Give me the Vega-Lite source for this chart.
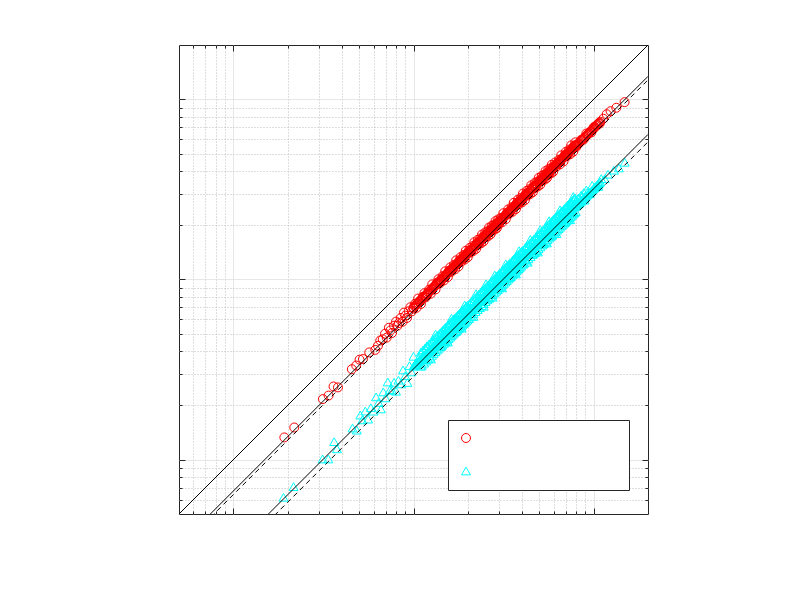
{
  "$schema": "https://vega.github.io/schema/vega-lite/v6.json",
  "width": 469,
  "height": 469,
  "autosize": {"type": "none"},
  "padding": {"left": 179, "top": 45, "right": 152, "bottom": 86},
  "background": "white",
  "config": {"view": {"stroke": "#262626", "strokeWidth": 1}},
  "datasets": {
    "lines": [
      {"k": "a", "x": 0.5, "y": 0.5}, {"k": "a", "x": 200, "y": 200},
      {"k": "b", "x": 0.5, "y": 0.335}, {"k": "b", "x": 200, "y": 134},
      {"k": "c", "x": 0.5, "y": 0.1595}, {"k": "c", "x": 200, "y": 63.8}
    ],
    "dashed": [
      {"k": "d", "x": 0.5, "y": 0.32}, {"k": "d", "x": 200, "y": 128},
      {"k": "e", "x": 0.5, "y": 0.145}, {"k": "e", "x": 200, "y": 58}
    ],
    "pts": [
      {"s":"A","x":1.92,"y":1.33},{"s":"A","x":2.18,"y":1.51},{"s":"A","x":3.14,"y":2.17},{"s":"A","x":3.38,"y":2.27},{"s":"A","x":3.6,"y":2.55},{"s":"A","x":3.81,"y":2.52},{"s":"A","x":4.55,"y":3.18},{"s":"A","x":4.81,"y":3.33},{"s":"A","x":5.02,"y":3.59},{"s":"A","x":5.24,"y":3.62},{"s":"A","x":5.68,"y":3.94},{"s":"A","x":6.14,"y":4.07},{"s":"A","x":6.35,"y":4.29},{"s":"A","x":6.54,"y":4.59},
      {"s":"A","x":6.75,"y":4.66},{"s":"A","x":6.95,"y":5.0},{"s":"A","x":7.1,"y":4.76},{"s":"A","x":7.3,"y":5.4},{"s":"A","x":7.45,"y":5.22},{"s":"A","x":7.6,"y":5.05},{"s":"A","x":7.8,"y":5.54},{"s":"A","x":8.0,"y":5.84},{"s":"A","x":8.15,"y":5.54},{"s":"A","x":8.3,"y":5.73},{"s":"A","x":8.5,"y":6.12},{"s":"A","x":8.7,"y":5.83},{"s":"A","x":8.85,"y":6.55},{"s":"A","x":9.0,"y":6.3},{"s":"A","x":9.2,"y":6.12},{"s":"A","x":9.4,"y":6.67},{"s":"A","x":9.6,"y":7.01},{"s":"A","x":9.8,"y":6.66},{"s":"A","x":10.0,"y":6.9},{"s":"A","x":10.2,"y":7.34},{"s":"A","x":10.4,"y":6.97},{"s":"A","x":10.6,"y":7.84},{"s":"A","x":10.8,"y":7.56},{"s":"A","x":11.0,"y":7.32},{"s":"A","x":11.25,"y":7.99},{"s":"A","x":11.5,"y":8.4},{"s":"A","x":11.7,"y":7.96},{"s":"A","x":11.95,"y":8.25},{"s":"A","x":12.2,"y":8.78},{"s":"A","x":12.45,"y":8.34},{"s":"A","x":12.7,"y":9.4},{"s":"A","x":13.0,"y":9.1},
      {"s":"A","x":13.25,"y":8.81},{"s":"A","x":13.5,"y":9.59},{"s":"A","x":13.75,"y":10.04},{"s":"A","x":14.0,"y":9.52},{"s":"A","x":14.25,"y":9.83},{"s":"A","x":14.5,"y":10.44},{"s":"A","x":14.75,"y":9.88},{"s":"A","x":15.0,"y":11.1},{"s":"A","x":15.25,"y":10.68},{"s":"A","x":15.5,"y":10.31},{"s":"A","x":15.75,"y":11.18},{"s":"A","x":16.0,"y":11.68},{"s":"A","x":16.25,"y":11.05},{"s":"A","x":16.5,"y":11.39},{"s":"A","x":16.75,"y":12.06},{"s":"A","x":17.0,"y":11.39},{"s":"A","x":17.25,"y":12.77},{"s":"A","x":17.5,"y":12.25},{"s":"A","x":17.75,"y":11.8},{"s":"A","x":18.0,"y":12.78},{"s":"A","x":18.25,"y":13.32},{"s":"A","x":18.5,"y":12.58},{"s":"A","x":18.75,"y":12.94},{"s":"A","x":19.0,"y":13.68},{"s":"A","x":19.25,"y":12.9},{"s":"A","x":19.5,"y":14.43},{"s":"A","x":19.75,"y":13.83},{"s":"A","x":20.0,"y":13.3},{"s":"A","x":20.25,"y":14.38},{"s":"A","x":20.5,"y":14.97},{"s":"A","x":20.75,"y":14.11},{"s":"A","x":21.0,"y":14.49},{"s":"A","x":21.25,"y":15.3},{"s":"A","x":21.5,"y":14.41},{"s":"A","x":21.75,"y":16.1},{"s":"A","x":22.0,"y":15.4},{"s":"A","x":22.25,"y":14.8},{"s":"A","x":22.5,"y":15.98},{"s":"A","x":22.75,"y":16.61},{"s":"A","x":23.0,"y":15.64},{"s":"A","x":23.25,"y":16.04},{"s":"A","x":23.5,"y":16.92},{"s":"A","x":23.75,"y":15.91},{"s":"A","x":24.0,"y":17.76},{"s":"A","x":24.25,"y":16.98},{"s":"A","x":24.5,"y":16.29},{"s":"A","x":24.75,"y":17.57},{"s":"A","x":25.0,"y":18.25},{"s":"A","x":25.25,"y":17.17},{"s":"A","x":25.5,"y":17.6},{"s":"A","x":25.75,"y":18.54},{"s":"A","x":26.0,"y":17.42},{"s":"A","x":26.25,"y":19.43},{"s":"A","x":26.5,"y":18.55},{"s":"A","x":26.75,"y":17.79},{"s":"A","x":27.0,"y":19.17},{"s":"A","x":27.25,"y":19.89},{"s":"A","x":27.5,"y":18.7},{"s":"A","x":27.75,"y":19.15},{"s":"A","x":28.0,"y":20.16},{"s":"A","x":28.25,"y":18.93},{"s":"A","x":28.5,"y":21.09},{"s":"A","x":28.75,"y":20.13},{"s":"A","x":29.0,"y":19.29},{"s":"A","x":29.25,"y":20.77},{"s":"A","x":29.5,"y":21.54},{"s":"A","x":29.75,"y":20.23},{"s":"A","x":30.0,"y":20.7},
      {"s":"A","x":30.5,"y":21.96},{"s":"A","x":31.0,"y":20.77},{"s":"A","x":31.5,"y":23.31},{"s":"A","x":32.0,"y":22.4},{"s":"A","x":32.5,"y":21.61},{"s":"A","x":33.0,"y":23.43},{"s":"A","x":33.5,"y":24.46},{"s":"A","x":34.0,"y":23.12},{"s":"A","x":34.5,"y":23.81},{"s":"A","x":35.0,"y":25.2},{"s":"A","x":35.5,"y":23.79},{"s":"A","x":36.0,"y":26.64},{"s":"A","x":36.5,"y":25.55},{"s":"A","x":37.0,"y":24.61},{"s":"A","x":37.5,"y":26.63},{"s":"A","x":38.0,"y":27.74},{"s":"A","x":38.5,"y":26.18},{"s":"A","x":39.0,"y":26.91},{"s":"A","x":39.5,"y":28.44},{"s":"A","x":40.0,"y":26.8},{"s":"A","x":40.5,"y":29.97},{"s":"A","x":41.0,"y":28.7},{"s":"A","x":41.5,"y":27.6},{"s":"A","x":42.0,"y":29.82},{"s":"A","x":42.5,"y":31.03},{"s":"A","x":43.0,"y":29.24},{"s":"A","x":43.5,"y":30.02},{"s":"A","x":44.0,"y":31.68},{"s":"A","x":44.5,"y":29.82},{"s":"A","x":45.0,"y":33.3},{"s":"A","x":45.5,"y":31.85},{"s":"A","x":46.0,"y":30.59},{"s":"A","x":46.5,"y":33.02},{"s":"A","x":47.0,"y":34.31},{"s":"A","x":47.5,"y":32.3},{"s":"A","x":48.0,"y":33.12},{"s":"A","x":48.5,"y":34.92},{"s":"A","x":49.0,"y":32.83},{"s":"A","x":49.5,"y":36.63},{"s":"A","x":50.0,"y":35.0},{"s":"A","x":50.5,"y":33.58},{"s":"A","x":51.0,"y":36.21},{"s":"A","x":51.5,"y":37.6},{"s":"A","x":52.0,"y":35.36},{"s":"A","x":52.5,"y":36.23},{"s":"A","x":53.0,"y":38.16},{"s":"A","x":53.5,"y":35.85},{"s":"A","x":54.0,"y":39.96},{"s":"A","x":54.5,"y":38.15},{"s":"A","x":55.0,"y":36.58},{"s":"A","x":55.5,"y":39.41},{"s":"A","x":56.0,"y":40.88},{"s":"A","x":56.5,"y":38.42},{"s":"A","x":57.0,"y":39.33},{"s":"A","x":57.5,"y":41.4},{"s":"A","x":58.0,"y":38.86},{"s":"A","x":58.5,"y":43.29},{"s":"A","x":59.0,"y":41.3},{"s":"A","x":59.5,"y":39.57},{"s":"A","x":60.0,"y":42.6},
      {"s":"A","x":61,"y":44.53},{"s":"A","x":62,"y":42.16},{"s":"A","x":63,"y":43.47},{"s":"A","x":64,"y":46.08},{"s":"A","x":65,"y":43.55},{"s":"A","x":66,"y":48.84},{"s":"A","x":67,"y":46.9},{"s":"A","x":68,"y":45.22},{"s":"A","x":69,"y":48.99},{"s":"A","x":70,"y":51.1},{"s":"A","x":71,"y":48.28},{"s":"A","x":72,"y":49.68},{"s":"A","x":73,"y":52.56},{"s":"A","x":74,"y":49.58},{"s":"A","x":75,"y":55.5},{"s":"A","x":76,"y":53.2},{"s":"A","x":77,"y":51.21},{"s":"A","x":78,"y":55.38},{"s":"A","x":79,"y":57.67},{"s":"A","x":80,"y":54.4},
      {"s":"A","x":82,"y":56.6},{"s":"A","x":85,"y":59.5},{"s":"A","x":88,"y":59.8},{"s":"A","x":91,"y":64.6},{"s":"A","x":94,"y":64.9},{"s":"A","x":97,"y":65.5},{"s":"A","x":100,"y":70.0},{"s":"A","x":104,"y":71.8},{"s":"A","x":108,"y":73.4},{"s":"A","x":113,"y":78.0},{"s":"A","x":118,"y":82.6},{"s":"A","x":124,"y":85.9},{"s":"A","x":133.4,"y":89.7},{"s":"A","x":148.3,"y":96.4},
      {"s":"A","x":10.0,"y":7.0},{"s":"A","x":10.15,"y":7.105},{"s":"A","x":10.3,"y":7.21},{"s":"A","x":10.45,"y":7.315},{"s":"A","x":10.6,"y":7.42},{"s":"A","x":10.75,"y":7.525},{"s":"A","x":10.9,"y":7.63},{"s":"A","x":11.05,"y":7.735},{"s":"A","x":11.2,"y":7.84},{"s":"A","x":11.35,"y":7.945},{"s":"A","x":11.5,"y":8.05},{"s":"A","x":11.65,"y":8.155},{"s":"A","x":11.8,"y":8.26},{"s":"A","x":11.95,"y":8.365},{"s":"A","x":12.1,"y":8.47},{"s":"A","x":12.25,"y":8.575},{"s":"A","x":12.4,"y":8.68},{"s":"A","x":12.55,"y":8.785},{"s":"A","x":12.7,"y":8.89},{"s":"A","x":12.85,"y":8.995},{"s":"A","x":13.0,"y":9.1},{"s":"A","x":13.15,"y":9.205},{"s":"A","x":13.3,"y":9.31},{"s":"A","x":13.45,"y":9.415},{"s":"A","x":13.6,"y":9.52},{"s":"A","x":13.75,"y":9.625},{"s":"A","x":13.9,"y":9.73},{"s":"A","x":14.05,"y":9.835},{"s":"A","x":14.2,"y":9.94},{"s":"A","x":14.35,"y":10.045},{"s":"A","x":14.5,"y":10.15},{"s":"A","x":14.65,"y":10.255},{"s":"A","x":14.8,"y":10.36},{"s":"A","x":14.95,"y":10.465},{"s":"A","x":15.1,"y":10.57},{"s":"A","x":15.25,"y":10.675},{"s":"A","x":15.4,"y":10.78},{"s":"A","x":15.55,"y":10.885},{"s":"A","x":15.7,"y":10.99},{"s":"A","x":15.85,"y":11.095},{"s":"A","x":16.0,"y":11.2},{"s":"A","x":16.15,"y":11.305},{"s":"A","x":16.3,"y":11.41},{"s":"A","x":16.45,"y":11.515},{"s":"A","x":16.6,"y":11.62},{"s":"A","x":16.75,"y":11.725},{"s":"A","x":16.9,"y":11.83},{"s":"A","x":17.05,"y":11.935},{"s":"A","x":17.2,"y":12.04},{"s":"A","x":17.35,"y":12.145},{"s":"A","x":17.5,"y":12.25},{"s":"A","x":17.65,"y":12.355},{"s":"A","x":17.8,"y":12.46},{"s":"A","x":17.95,"y":12.565},{"s":"A","x":18.1,"y":12.67},{"s":"A","x":18.25,"y":12.775},{"s":"A","x":18.4,"y":12.88},{"s":"A","x":18.55,"y":12.985},{"s":"A","x":18.7,"y":13.09},{"s":"A","x":18.85,"y":13.195},{"s":"A","x":19.0,"y":13.3},{"s":"A","x":19.15,"y":13.405},{"s":"A","x":19.3,"y":13.51},{"s":"A","x":19.45,"y":13.615},{"s":"A","x":19.6,"y":13.72},{"s":"A","x":19.75,"y":13.825},{"s":"A","x":19.9,"y":13.93},
      {"s":"A","x":20.0,"y":14.0},{"s":"A","x":20.3,"y":14.21},{"s":"A","x":20.6,"y":14.42},{"s":"A","x":20.9,"y":14.63},{"s":"A","x":21.2,"y":14.84},{"s":"A","x":21.5,"y":15.05},{"s":"A","x":21.8,"y":15.26},{"s":"A","x":22.1,"y":15.47},{"s":"A","x":22.4,"y":15.68},{"s":"A","x":22.7,"y":15.89},{"s":"A","x":23.0,"y":16.1},{"s":"A","x":23.3,"y":16.31},{"s":"A","x":23.6,"y":16.52},{"s":"A","x":23.9,"y":16.73},{"s":"A","x":24.2,"y":16.94},{"s":"A","x":24.5,"y":17.15},{"s":"A","x":24.8,"y":17.36},{"s":"A","x":25.1,"y":17.57},{"s":"A","x":25.4,"y":17.78},{"s":"A","x":25.7,"y":17.99},{"s":"A","x":26.0,"y":18.2},{"s":"A","x":26.3,"y":18.41},{"s":"A","x":26.6,"y":18.62},{"s":"A","x":26.9,"y":18.83},{"s":"A","x":27.2,"y":19.04},{"s":"A","x":27.5,"y":19.25},{"s":"A","x":27.8,"y":19.46},{"s":"A","x":28.1,"y":19.67},{"s":"A","x":28.4,"y":19.88},{"s":"A","x":28.7,"y":20.09},{"s":"A","x":29.0,"y":20.3},{"s":"A","x":29.3,"y":20.51},{"s":"A","x":29.6,"y":20.72},{"s":"A","x":29.9,"y":20.93},{"s":"A","x":30.2,"y":21.14},{"s":"A","x":30.5,"y":21.35},{"s":"A","x":30.8,"y":21.56},{"s":"A","x":31.1,"y":21.77},{"s":"A","x":31.4,"y":21.98},{"s":"A","x":31.7,"y":22.19},{"s":"A","x":32.0,"y":22.4},{"s":"A","x":32.3,"y":22.61},{"s":"A","x":32.6,"y":22.82},{"s":"A","x":32.9,"y":23.03},{"s":"A","x":33.2,"y":23.24},{"s":"A","x":33.5,"y":23.45},{"s":"A","x":33.8,"y":23.66},{"s":"A","x":34.1,"y":23.87},{"s":"A","x":34.4,"y":24.08},{"s":"A","x":34.7,"y":24.29},{"s":"A","x":35.0,"y":24.5},{"s":"A","x":35.3,"y":24.71},{"s":"A","x":35.6,"y":24.92},{"s":"A","x":35.9,"y":25.13},{"s":"A","x":36.2,"y":25.34},{"s":"A","x":36.5,"y":25.55},{"s":"A","x":36.8,"y":25.76},{"s":"A","x":37.1,"y":25.97},{"s":"A","x":37.4,"y":26.18},{"s":"A","x":37.7,"y":26.39},{"s":"A","x":38.0,"y":26.6},{"s":"A","x":38.3,"y":26.81},{"s":"A","x":38.6,"y":27.02},{"s":"A","x":38.9,"y":27.23},{"s":"A","x":39.2,"y":27.44},{"s":"A","x":39.5,"y":27.65},{"s":"A","x":39.8,"y":27.86},
      {"s":"A","x":40.0,"y":28.0},{"s":"A","x":40.6,"y":28.42},{"s":"A","x":41.2,"y":28.84},{"s":"A","x":41.8,"y":29.26},{"s":"A","x":42.4,"y":29.68},{"s":"A","x":43.0,"y":30.1},{"s":"A","x":43.6,"y":30.52},{"s":"A","x":44.2,"y":30.94},{"s":"A","x":44.8,"y":31.36},{"s":"A","x":45.4,"y":31.78},{"s":"A","x":46.0,"y":32.2},{"s":"A","x":46.6,"y":32.62},{"s":"A","x":47.2,"y":33.04},{"s":"A","x":47.8,"y":33.46},{"s":"A","x":48.4,"y":33.88},{"s":"A","x":49.0,"y":34.3},{"s":"A","x":49.6,"y":34.72},{"s":"A","x":50.2,"y":35.14},{"s":"A","x":50.8,"y":35.56},{"s":"A","x":51.4,"y":35.98},{"s":"A","x":52.0,"y":36.4},{"s":"A","x":52.6,"y":36.82},{"s":"A","x":53.2,"y":37.24},{"s":"A","x":53.8,"y":37.66},{"s":"A","x":54.4,"y":38.08},{"s":"A","x":55.0,"y":38.5},{"s":"A","x":55.6,"y":38.92},{"s":"A","x":56.2,"y":39.34},{"s":"A","x":56.8,"y":39.76},{"s":"A","x":57.4,"y":40.18},{"s":"A","x":58.0,"y":40.6},{"s":"A","x":58.6,"y":41.02},{"s":"A","x":59.2,"y":41.44},{"s":"A","x":59.8,"y":41.86},{"s":"A","x":60.4,"y":42.28},{"s":"A","x":61.0,"y":42.7},{"s":"A","x":61.6,"y":43.12},{"s":"A","x":62.2,"y":43.54},{"s":"A","x":62.8,"y":43.96},{"s":"A","x":63.4,"y":44.38},{"s":"A","x":64.0,"y":44.8},{"s":"A","x":64.6,"y":45.22},{"s":"A","x":65.2,"y":45.64},{"s":"A","x":65.8,"y":46.06},{"s":"A","x":66.4,"y":46.48},{"s":"A","x":67.0,"y":46.9},{"s":"A","x":67.6,"y":47.32},{"s":"A","x":68.2,"y":47.74},{"s":"A","x":68.8,"y":48.16},{"s":"A","x":69.4,"y":48.58},{"s":"A","x":70.0,"y":49.0},{"s":"A","x":70.6,"y":49.42},{"s":"A","x":71.2,"y":49.84},{"s":"A","x":71.8,"y":50.26},{"s":"A","x":72.4,"y":50.68},{"s":"A","x":73.0,"y":51.1},{"s":"A","x":73.6,"y":51.52},{"s":"A","x":74.2,"y":51.94},{"s":"A","x":74.8,"y":52.36},{"s":"A","x":75.4,"y":52.78},{"s":"A","x":76.0,"y":53.2},{"s":"A","x":76.6,"y":53.62},{"s":"A","x":77.2,"y":54.04},{"s":"A","x":77.8,"y":54.46},{"s":"A","x":78.4,"y":54.88},{"s":"A","x":79.0,"y":55.3},{"s":"A","x":79.6,"y":55.72},
      {"s":"A","x":80.0,"y":55.2},{"s":"A","x":81.2,"y":56.03},{"s":"A","x":82.4,"y":56.86},{"s":"A","x":83.6,"y":57.68},{"s":"A","x":84.8,"y":58.51},{"s":"A","x":86.0,"y":59.34},{"s":"A","x":87.2,"y":60.17},{"s":"A","x":88.4,"y":61.0},{"s":"A","x":89.6,"y":61.82},{"s":"A","x":90.8,"y":62.65},{"s":"A","x":92.0,"y":63.48},{"s":"A","x":93.2,"y":64.31},{"s":"A","x":94.4,"y":65.14},{"s":"A","x":95.6,"y":65.96},{"s":"A","x":96.8,"y":66.79},{"s":"A","x":98.0,"y":67.62},{"s":"A","x":99.2,"y":68.45},{"s":"A","x":100.4,"y":69.28},{"s":"A","x":101.6,"y":70.1},{"s":"A","x":102.8,"y":70.93},{"s":"A","x":104.0,"y":71.76},{"s":"A","x":105.2,"y":72.59},{"s":"A","x":106.4,"y":73.42},{"s":"A","x":107.6,"y":74.24},{"s":"A","x":108.8,"y":75.07},
      {"s":"B","x":1.9,"y":0.619},{"s":"B","x":2.16,"y":0.709},{"s":"B","x":3.13,"y":1.01},{"s":"B","x":3.37,"y":1.01},{"s":"B","x":3.63,"y":1.26},{"s":"B","x":3.76,"y":1.15},{"s":"B","x":4.59,"y":1.5},{"s":"B","x":4.85,"y":1.46},{"s":"B","x":5.07,"y":1.77},
      {"s":"B","x":5.2,"y":1.664},{"s":"B","x":5.4,"y":1.863},{"s":"B","x":5.6,"y":1.68},{"s":"B","x":5.8,"y":1.943},{"s":"B","x":6.0,"y":1.86},{"s":"B","x":6.2,"y":2.232},{"s":"B","x":6.4,"y":2.08},{"s":"B","x":6.6,"y":1.914},{"s":"B","x":6.8,"y":2.38},{"s":"B","x":7.0,"y":2.205},{"s":"B","x":7.2,"y":2.7},{"s":"B","x":7.4,"y":2.442},{"s":"B","x":7.6,"y":2.432},{"s":"B","x":7.8,"y":2.691},{"s":"B","x":8.0,"y":2.4},{"s":"B","x":8.25,"y":2.764},{"s":"B","x":8.5,"y":2.635},{"s":"B","x":8.75,"y":3.15},{"s":"B","x":9.0,"y":2.925},{"s":"B","x":9.25,"y":2.683},{"s":"B","x":9.5,"y":3.325},{"s":"B","x":9.75,"y":3.071},{"s":"B","x":10.0,"y":3.75},{"s":"B","x":10.25,"y":3.383},{"s":"B","x":10.5,"y":3.36},{"s":"B","x":10.75,"y":3.709},{"s":"B","x":11.0,"y":3.3},{"s":"B","x":11.3,"y":3.786},{"s":"B","x":11.6,"y":3.596},{"s":"B","x":11.9,"y":4.284},{"s":"B","x":12.2,"y":3.965},{"s":"B","x":12.5,"y":3.625},{"s":"B","x":12.8,"y":4.48},
      {"s":"B","x":13.0,"y":4.095},{"s":"B","x":13.25,"y":4.969},{"s":"B","x":13.5,"y":4.455},{"s":"B","x":13.75,"y":4.4},{"s":"B","x":14.0,"y":4.83},{"s":"B","x":14.25,"y":4.275},{"s":"B","x":14.5,"y":4.858},{"s":"B","x":14.75,"y":4.573},{"s":"B","x":15.0,"y":5.4},{"s":"B","x":15.25,"y":4.956},{"s":"B","x":15.5,"y":4.495},{"s":"B","x":15.75,"y":5.513},{"s":"B","x":16.0,"y":5.04},{"s":"B","x":16.25,"y":6.094},{"s":"B","x":16.5,"y":5.445},{"s":"B","x":16.75,"y":5.36},{"s":"B","x":17.0,"y":5.865},{"s":"B","x":17.25,"y":5.175},{"s":"B","x":17.5,"y":5.863},{"s":"B","x":17.75,"y":5.503},{"s":"B","x":18.0,"y":6.48},{"s":"B","x":18.25,"y":5.931},{"s":"B","x":18.5,"y":5.365},{"s":"B","x":18.75,"y":6.563},{"s":"B","x":19.0,"y":5.985},{"s":"B","x":19.25,"y":7.219},{"s":"B","x":19.5,"y":6.435},{"s":"B","x":19.75,"y":6.32},{"s":"B","x":20.0,"y":6.9},{"s":"B","x":20.25,"y":6.075},{"s":"B","x":20.5,"y":6.868},{"s":"B","x":20.75,"y":6.433},{"s":"B","x":21.0,"y":7.56},{"s":"B","x":21.25,"y":6.906},{"s":"B","x":21.5,"y":6.235},{"s":"B","x":21.75,"y":7.613},{"s":"B","x":22.0,"y":6.93},{"s":"B","x":22.25,"y":8.344},{"s":"B","x":22.5,"y":7.425},{"s":"B","x":22.75,"y":7.28},{"s":"B","x":23.0,"y":7.935},{"s":"B","x":23.25,"y":6.975},{"s":"B","x":23.5,"y":7.873},{"s":"B","x":23.75,"y":7.363},{"s":"B","x":24.0,"y":8.64},{"s":"B","x":24.25,"y":7.881},{"s":"B","x":24.5,"y":7.105},{"s":"B","x":24.75,"y":8.663},{"s":"B","x":25.0,"y":7.875},{"s":"B","x":25.25,"y":9.469},{"s":"B","x":25.5,"y":8.415},{"s":"B","x":25.75,"y":8.24},{"s":"B","x":26.0,"y":8.97},{"s":"B","x":26.25,"y":7.875},{"s":"B","x":26.5,"y":8.878},{"s":"B","x":26.75,"y":8.293},{"s":"B","x":27.0,"y":9.72},{"s":"B","x":27.25,"y":8.856},{"s":"B","x":27.5,"y":7.975},{"s":"B","x":27.75,"y":9.713},{"s":"B","x":28.0,"y":8.82},{"s":"B","x":28.25,"y":10.59},{"s":"B","x":28.5,"y":9.405},{"s":"B","x":28.75,"y":9.2},{"s":"B","x":29.0,"y":10.01},{"s":"B","x":29.25,"y":8.775},{"s":"B","x":29.5,"y":9.883},{"s":"B","x":29.75,"y":9.223},{"s":"B","x":30.0,"y":10.8},
      {"s":"B","x":30.5,"y":9.913},{"s":"B","x":31.0,"y":8.99},{"s":"B","x":31.5,"y":11.03},{"s":"B","x":32.0,"y":10.08},{"s":"B","x":32.5,"y":12.19},{"s":"B","x":33.0,"y":10.89},{"s":"B","x":33.5,"y":10.72},{"s":"B","x":34.0,"y":11.73},{"s":"B","x":34.5,"y":10.35},{"s":"B","x":35.0,"y":11.73},{"s":"B","x":35.5,"y":11.01},{"s":"B","x":36.0,"y":12.96},{"s":"B","x":36.5,"y":11.86},{"s":"B","x":37.0,"y":10.73},{"s":"B","x":37.5,"y":13.13},{"s":"B","x":38.0,"y":11.97},{"s":"B","x":38.5,"y":14.44},{"s":"B","x":39.0,"y":12.87},{"s":"B","x":39.5,"y":12.64},{"s":"B","x":40.0,"y":13.8},{"s":"B","x":40.5,"y":12.15},{"s":"B","x":41.0,"y":13.74},{"s":"B","x":41.5,"y":12.87},{"s":"B","x":42.0,"y":15.12},{"s":"B","x":42.5,"y":13.81},{"s":"B","x":43.0,"y":12.47},{"s":"B","x":43.5,"y":15.23},{"s":"B","x":44.0,"y":13.86},{"s":"B","x":44.5,"y":16.69},{"s":"B","x":45.0,"y":14.85},{"s":"B","x":45.5,"y":14.56},{"s":"B","x":46.0,"y":15.87},{"s":"B","x":46.5,"y":13.95},{"s":"B","x":47.0,"y":15.75},{"s":"B","x":47.5,"y":14.73},{"s":"B","x":48.0,"y":17.28},{"s":"B","x":48.5,"y":15.76},{"s":"B","x":49.0,"y":14.21},{"s":"B","x":49.5,"y":17.33},{"s":"B","x":50.0,"y":15.75},{"s":"B","x":50.5,"y":18.94},{"s":"B","x":51.0,"y":16.83},{"s":"B","x":51.5,"y":16.48},{"s":"B","x":52.0,"y":17.94},{"s":"B","x":52.5,"y":15.75},{"s":"B","x":53.0,"y":17.76},{"s":"B","x":53.5,"y":16.59},{"s":"B","x":54.0,"y":19.44},{"s":"B","x":54.5,"y":17.71},{"s":"B","x":55.0,"y":15.95},{"s":"B","x":55.5,"y":19.43},{"s":"B","x":56.0,"y":17.64},{"s":"B","x":56.5,"y":21.19},{"s":"B","x":57.0,"y":18.81},{"s":"B","x":57.5,"y":18.4},{"s":"B","x":58.0,"y":20.01},{"s":"B","x":58.5,"y":17.55},{"s":"B","x":59.0,"y":19.77},{"s":"B","x":59.5,"y":18.45},{"s":"B","x":60.0,"y":21.6},
      {"s":"B","x":61,"y":19.83},{"s":"B","x":62,"y":17.98},{"s":"B","x":63,"y":22.05},{"s":"B","x":64,"y":20.16},{"s":"B","x":65,"y":24.38},{"s":"B","x":66,"y":21.78},{"s":"B","x":67,"y":21.44},{"s":"B","x":68,"y":23.46},{"s":"B","x":69,"y":20.7},{"s":"B","x":70,"y":23.45},{"s":"B","x":71,"y":22.01},{"s":"B","x":72,"y":25.92},{"s":"B","x":73,"y":23.73},{"s":"B","x":74,"y":21.46},{"s":"B","x":75,"y":26.25},{"s":"B","x":76,"y":23.94},{"s":"B","x":77,"y":28.88},{"s":"B","x":78,"y":25.74},{"s":"B","x":79,"y":25.28},{"s":"B","x":80,"y":27.6},
      {"s":"B","x":83,"y":26.56},{"s":"B","x":86,"y":28.81},{"s":"B","x":89,"y":27.59},{"s":"B","x":92,"y":30.36},{"s":"B","x":95,"y":29.93},{"s":"B","x":98,"y":33.32},{"s":"B","x":102,"y":32.64},{"s":"B","x":106,"y":32.86},{"s":"B","x":110,"y":36.3},{"s":"B","x":115,"y":36.23},{"s":"B","x":120,"y":38.4},{"s":"B","x":129.4,"y":40.4},{"s":"B","x":137.9,"y":41.6},{"s":"B","x":148.5,"y":44.7},
      {"s":"B","x":10.0,"y":3.3},{"s":"B","x":10.15,"y":3.35},{"s":"B","x":10.3,"y":3.399},{"s":"B","x":10.45,"y":3.449},{"s":"B","x":10.6,"y":3.498},{"s":"B","x":10.75,"y":3.548},{"s":"B","x":10.9,"y":3.597},{"s":"B","x":11.05,"y":3.647},{"s":"B","x":11.2,"y":3.696},{"s":"B","x":11.35,"y":3.746},{"s":"B","x":11.5,"y":3.795},{"s":"B","x":11.65,"y":3.845},{"s":"B","x":11.8,"y":3.894},{"s":"B","x":11.95,"y":3.944},{"s":"B","x":12.1,"y":3.993},{"s":"B","x":12.25,"y":4.043},{"s":"B","x":12.4,"y":4.092},{"s":"B","x":12.55,"y":4.142},{"s":"B","x":12.7,"y":4.191},{"s":"B","x":12.85,"y":4.241},{"s":"B","x":13.0,"y":4.29},{"s":"B","x":13.15,"y":4.34},{"s":"B","x":13.3,"y":4.389},{"s":"B","x":13.45,"y":4.439},{"s":"B","x":13.6,"y":4.488},{"s":"B","x":13.75,"y":4.538},{"s":"B","x":13.9,"y":4.587},{"s":"B","x":14.05,"y":4.637},{"s":"B","x":14.2,"y":4.686},{"s":"B","x":14.35,"y":4.736},{"s":"B","x":14.5,"y":4.785},{"s":"B","x":14.65,"y":4.835},{"s":"B","x":14.8,"y":4.884},{"s":"B","x":14.95,"y":4.934},{"s":"B","x":15.1,"y":4.983},{"s":"B","x":15.25,"y":5.033},{"s":"B","x":15.4,"y":5.082},{"s":"B","x":15.55,"y":5.132},{"s":"B","x":15.7,"y":5.181},{"s":"B","x":15.85,"y":5.231},{"s":"B","x":16.0,"y":5.28},{"s":"B","x":16.15,"y":5.33},{"s":"B","x":16.3,"y":5.379},{"s":"B","x":16.45,"y":5.429},{"s":"B","x":16.6,"y":5.478},{"s":"B","x":16.75,"y":5.528},{"s":"B","x":16.9,"y":5.577},{"s":"B","x":17.05,"y":5.627},{"s":"B","x":17.2,"y":5.676},{"s":"B","x":17.35,"y":5.726},{"s":"B","x":17.5,"y":5.775},{"s":"B","x":17.65,"y":5.825},{"s":"B","x":17.8,"y":5.874},{"s":"B","x":17.95,"y":5.924},{"s":"B","x":18.1,"y":5.973},{"s":"B","x":18.25,"y":6.023},{"s":"B","x":18.4,"y":6.072},{"s":"B","x":18.55,"y":6.122},{"s":"B","x":18.7,"y":6.171},{"s":"B","x":18.85,"y":6.221},{"s":"B","x":19.0,"y":6.27},{"s":"B","x":19.15,"y":6.32},{"s":"B","x":19.3,"y":6.369},{"s":"B","x":19.45,"y":6.419},{"s":"B","x":19.6,"y":6.468},{"s":"B","x":19.75,"y":6.518},{"s":"B","x":19.9,"y":6.567},
      {"s":"B","x":20.0,"y":6.6},{"s":"B","x":20.3,"y":6.699},{"s":"B","x":20.6,"y":6.798},{"s":"B","x":20.9,"y":6.897},{"s":"B","x":21.2,"y":6.996},{"s":"B","x":21.5,"y":7.095},{"s":"B","x":21.8,"y":7.194},{"s":"B","x":22.1,"y":7.293},{"s":"B","x":22.4,"y":7.392},{"s":"B","x":22.7,"y":7.491},{"s":"B","x":23.0,"y":7.59},{"s":"B","x":23.3,"y":7.689},{"s":"B","x":23.6,"y":7.788},{"s":"B","x":23.9,"y":7.887},{"s":"B","x":24.2,"y":7.986},{"s":"B","x":24.5,"y":8.085},{"s":"B","x":24.8,"y":8.184},{"s":"B","x":25.1,"y":8.283},{"s":"B","x":25.4,"y":8.382},{"s":"B","x":25.7,"y":8.481},{"s":"B","x":26.0,"y":8.58},{"s":"B","x":26.3,"y":8.679},{"s":"B","x":26.6,"y":8.778},{"s":"B","x":26.9,"y":8.877},{"s":"B","x":27.2,"y":8.976},{"s":"B","x":27.5,"y":9.075},{"s":"B","x":27.8,"y":9.174},{"s":"B","x":28.1,"y":9.273},{"s":"B","x":28.4,"y":9.372},{"s":"B","x":28.7,"y":9.471},{"s":"B","x":29.0,"y":9.57},{"s":"B","x":29.3,"y":9.669},{"s":"B","x":29.6,"y":9.768},{"s":"B","x":29.9,"y":9.867},{"s":"B","x":30.2,"y":9.966},{"s":"B","x":30.5,"y":10.065},{"s":"B","x":30.8,"y":10.164},{"s":"B","x":31.1,"y":10.263},{"s":"B","x":31.4,"y":10.362},{"s":"B","x":31.7,"y":10.461},{"s":"B","x":32.0,"y":10.56},{"s":"B","x":32.3,"y":10.659},{"s":"B","x":32.6,"y":10.758},{"s":"B","x":32.9,"y":10.857},{"s":"B","x":33.2,"y":10.956},{"s":"B","x":33.5,"y":11.055},{"s":"B","x":33.8,"y":11.154},{"s":"B","x":34.1,"y":11.253},{"s":"B","x":34.4,"y":11.352},{"s":"B","x":34.7,"y":11.451},{"s":"B","x":35.0,"y":11.55},{"s":"B","x":35.3,"y":11.649},{"s":"B","x":35.6,"y":11.748},{"s":"B","x":35.9,"y":11.847},{"s":"B","x":36.2,"y":11.946},{"s":"B","x":36.5,"y":12.045},{"s":"B","x":36.8,"y":12.144},{"s":"B","x":37.1,"y":12.243},{"s":"B","x":37.4,"y":12.342},{"s":"B","x":37.7,"y":12.441},{"s":"B","x":38.0,"y":12.54},{"s":"B","x":38.3,"y":12.639},{"s":"B","x":38.6,"y":12.738},{"s":"B","x":38.9,"y":12.837},{"s":"B","x":39.2,"y":12.936},{"s":"B","x":39.5,"y":13.035},{"s":"B","x":39.8,"y":13.134},
      {"s":"B","x":40.0,"y":13.2},{"s":"B","x":40.6,"y":13.398},{"s":"B","x":41.2,"y":13.596},{"s":"B","x":41.8,"y":13.794},{"s":"B","x":42.4,"y":13.992},{"s":"B","x":43.0,"y":14.19},{"s":"B","x":43.6,"y":14.388},{"s":"B","x":44.2,"y":14.586},{"s":"B","x":44.8,"y":14.784},{"s":"B","x":45.4,"y":14.982},{"s":"B","x":46.0,"y":15.18},{"s":"B","x":46.6,"y":15.378},{"s":"B","x":47.2,"y":15.576},{"s":"B","x":47.8,"y":15.774},{"s":"B","x":48.4,"y":15.972},{"s":"B","x":49.0,"y":16.17},{"s":"B","x":49.6,"y":16.368},{"s":"B","x":50.2,"y":16.566},{"s":"B","x":50.8,"y":16.764},{"s":"B","x":51.4,"y":16.962},{"s":"B","x":52.0,"y":17.16},{"s":"B","x":52.6,"y":17.358},{"s":"B","x":53.2,"y":17.556},{"s":"B","x":53.8,"y":17.754},{"s":"B","x":54.4,"y":17.952},{"s":"B","x":55.0,"y":18.15},{"s":"B","x":55.6,"y":18.348},{"s":"B","x":56.2,"y":18.546},{"s":"B","x":56.8,"y":18.744},{"s":"B","x":57.4,"y":18.942},{"s":"B","x":58.0,"y":19.14},{"s":"B","x":58.6,"y":19.338},{"s":"B","x":59.2,"y":19.536},{"s":"B","x":59.8,"y":19.734},{"s":"B","x":60.4,"y":19.932},{"s":"B","x":61.0,"y":20.13},{"s":"B","x":61.6,"y":20.328},{"s":"B","x":62.2,"y":20.526},{"s":"B","x":62.8,"y":20.724},{"s":"B","x":63.4,"y":20.922},{"s":"B","x":64.0,"y":21.12},{"s":"B","x":64.6,"y":21.318},{"s":"B","x":65.2,"y":21.516},{"s":"B","x":65.8,"y":21.714},{"s":"B","x":66.4,"y":21.912},{"s":"B","x":67.0,"y":22.11},{"s":"B","x":67.6,"y":22.308},{"s":"B","x":68.2,"y":22.506},{"s":"B","x":68.8,"y":22.704},{"s":"B","x":69.4,"y":22.902},{"s":"B","x":70.0,"y":23.1},{"s":"B","x":70.6,"y":23.298},{"s":"B","x":71.2,"y":23.496},{"s":"B","x":71.8,"y":23.694},{"s":"B","x":72.4,"y":23.892},{"s":"B","x":73.0,"y":24.09},{"s":"B","x":73.6,"y":24.288},{"s":"B","x":74.2,"y":24.486},{"s":"B","x":74.8,"y":24.684},{"s":"B","x":75.4,"y":24.882},{"s":"B","x":76.0,"y":25.08},{"s":"B","x":76.6,"y":25.278},{"s":"B","x":77.2,"y":25.476},{"s":"B","x":77.8,"y":25.674},{"s":"B","x":78.4,"y":25.872},{"s":"B","x":79.0,"y":26.07},{"s":"B","x":79.6,"y":26.268},
      {"s":"B","x":80.0,"y":25.6},{"s":"B","x":81.2,"y":25.984},{"s":"B","x":82.4,"y":26.368},{"s":"B","x":83.6,"y":26.752},{"s":"B","x":84.8,"y":27.136},{"s":"B","x":86.0,"y":27.52},{"s":"B","x":87.2,"y":27.904},{"s":"B","x":88.4,"y":28.288},{"s":"B","x":89.6,"y":28.672},{"s":"B","x":90.8,"y":29.056},{"s":"B","x":92.0,"y":29.44},{"s":"B","x":93.2,"y":29.824},{"s":"B","x":94.4,"y":30.208},{"s":"B","x":95.6,"y":30.592},{"s":"B","x":96.8,"y":30.976},{"s":"B","x":98.0,"y":31.36},{"s":"B","x":99.2,"y":31.744},{"s":"B","x":100.4,"y":32.128},{"s":"B","x":101.6,"y":32.512},{"s":"B","x":102.8,"y":32.896},{"s":"B","x":104.0,"y":33.28},{"s":"B","x":105.2,"y":33.664},{"s":"B","x":106.4,"y":34.048},{"s":"B","x":107.6,"y":34.432},{"s":"B","x":108.8,"y":34.816},
      {"s":"B","x":11.0,"y":3.96},{"s":"B","x":11.3,"y":4.068},{"s":"B","x":11.6,"y":4.176},{"s":"B","x":11.9,"y":4.284},{"s":"B","x":12.2,"y":4.392},{"s":"B","x":12.5,"y":4.5},{"s":"B","x":12.8,"y":4.608},{"s":"B","x":13.1,"y":4.716},{"s":"B","x":13.4,"y":4.824},{"s":"B","x":13.7,"y":4.932},{"s":"B","x":14.0,"y":5.04},{"s":"B","x":14.3,"y":5.148},{"s":"B","x":14.6,"y":5.256},{"s":"B","x":14.9,"y":5.364},{"s":"B","x":15.2,"y":5.472},{"s":"B","x":15.5,"y":5.58},{"s":"B","x":15.8,"y":5.688},{"s":"B","x":16.1,"y":5.796},{"s":"B","x":16.4,"y":5.904},{"s":"B","x":16.7,"y":6.012},{"s":"B","x":17.0,"y":6.12},{"s":"B","x":17.3,"y":6.228},{"s":"B","x":17.6,"y":6.336},{"s":"B","x":17.9,"y":6.444},{"s":"B","x":18.2,"y":6.552},{"s":"B","x":18.5,"y":6.66},{"s":"B","x":18.8,"y":6.768},{"s":"B","x":19.1,"y":6.876},{"s":"B","x":19.4,"y":6.984},{"s":"B","x":19.7,"y":7.092},
      {"s":"B","x":20.0,"y":7.2},{"s":"B","x":20.6,"y":7.416},{"s":"B","x":21.2,"y":7.632},{"s":"B","x":21.8,"y":7.848},{"s":"B","x":22.4,"y":8.064},{"s":"B","x":23.0,"y":8.28},{"s":"B","x":23.6,"y":8.496},{"s":"B","x":24.2,"y":8.712},{"s":"B","x":24.8,"y":8.928},{"s":"B","x":25.4,"y":9.144},{"s":"B","x":26.0,"y":9.36},{"s":"B","x":26.6,"y":9.576},{"s":"B","x":27.2,"y":9.792},{"s":"B","x":27.8,"y":10.008},{"s":"B","x":28.4,"y":10.224},{"s":"B","x":29.0,"y":10.44},{"s":"B","x":29.6,"y":10.656},{"s":"B","x":30.2,"y":10.872},{"s":"B","x":30.8,"y":11.088},{"s":"B","x":31.4,"y":11.304},{"s":"B","x":32.0,"y":11.52},{"s":"B","x":32.6,"y":11.736},{"s":"B","x":33.2,"y":11.952},{"s":"B","x":33.8,"y":12.168},{"s":"B","x":34.4,"y":12.384},{"s":"B","x":35.0,"y":12.6},{"s":"B","x":35.6,"y":12.816},{"s":"B","x":36.2,"y":13.032},{"s":"B","x":36.8,"y":13.248},{"s":"B","x":37.4,"y":13.464},{"s":"B","x":38.0,"y":13.68},{"s":"B","x":38.6,"y":13.896},{"s":"B","x":39.2,"y":14.112},{"s":"B","x":39.8,"y":14.328},
      {"s":"B","x":40.4,"y":14.544},{"s":"B","x":41.6,"y":14.976},{"s":"B","x":42.8,"y":15.408},{"s":"B","x":44.0,"y":15.84},{"s":"B","x":45.2,"y":16.272},{"s":"B","x":46.4,"y":16.704},{"s":"B","x":47.6,"y":17.136},{"s":"B","x":48.8,"y":17.568},{"s":"B","x":50.0,"y":18.0},{"s":"B","x":51.2,"y":18.432},{"s":"B","x":52.4,"y":18.864},{"s":"B","x":53.6,"y":19.296},{"s":"B","x":54.8,"y":19.728},{"s":"B","x":56.0,"y":20.16},{"s":"B","x":57.2,"y":20.592},{"s":"B","x":58.4,"y":21.024},{"s":"B","x":59.6,"y":21.456},{"s":"B","x":60.8,"y":21.888},{"s":"B","x":62.0,"y":22.32},{"s":"B","x":63.2,"y":22.752},{"s":"B","x":64.4,"y":23.184},{"s":"B","x":65.6,"y":23.616},{"s":"B","x":66.8,"y":24.048},{"s":"B","x":68.0,"y":24.48},{"s":"B","x":69.2,"y":24.912},{"s":"B","x":70.4,"y":25.344},{"s":"B","x":71.6,"y":25.776},{"s":"B","x":72.8,"y":26.208},{"s":"B","x":74.0,"y":26.64},{"s":"B","x":75.2,"y":27.072},{"s":"B","x":76.4,"y":27.504},{"s":"B","x":77.6,"y":27.936},{"s":"B","x":78.8,"y":28.368},{"s":"B","x":82,"y":28.29},{"s":"B","x":85,"y":29.33},{"s":"B","x":88,"y":30.36},{"s":"B","x":91,"y":31.4},
      {"s":"B","x":11.15,"y":3.345},{"s":"B","x":11.45,"y":3.435},{"s":"B","x":11.75,"y":3.525},{"s":"B","x":12.05,"y":3.615},{"s":"B","x":12.35,"y":3.705},{"s":"B","x":12.65,"y":3.795},{"s":"B","x":12.95,"y":3.885},{"s":"B","x":13.25,"y":3.975},{"s":"B","x":13.55,"y":4.065},{"s":"B","x":13.85,"y":4.155},{"s":"B","x":14.15,"y":4.245},{"s":"B","x":14.45,"y":4.335},{"s":"B","x":14.75,"y":4.425},{"s":"B","x":15.05,"y":4.515},{"s":"B","x":15.35,"y":4.605},{"s":"B","x":15.65,"y":4.695},{"s":"B","x":15.95,"y":4.785},{"s":"B","x":16.25,"y":4.875},{"s":"B","x":16.55,"y":4.965},{"s":"B","x":16.85,"y":5.055},{"s":"B","x":17.15,"y":5.145},{"s":"B","x":17.45,"y":5.235},{"s":"B","x":17.75,"y":5.325},{"s":"B","x":18.05,"y":5.415},{"s":"B","x":18.35,"y":5.505},{"s":"B","x":18.65,"y":5.595},{"s":"B","x":18.95,"y":5.685},{"s":"B","x":19.25,"y":5.775},{"s":"B","x":19.55,"y":5.865},{"s":"B","x":19.85,"y":5.955},
      {"s":"B","x":20.3,"y":6.09},{"s":"B","x":20.9,"y":6.27},{"s":"B","x":21.5,"y":6.45},{"s":"B","x":22.1,"y":6.63},{"s":"B","x":22.7,"y":6.81},{"s":"B","x":23.3,"y":6.99},{"s":"B","x":23.9,"y":7.17},{"s":"B","x":24.5,"y":7.35},{"s":"B","x":25.1,"y":7.53},{"s":"B","x":25.7,"y":7.71},{"s":"B","x":26.3,"y":7.89},{"s":"B","x":26.9,"y":8.07},{"s":"B","x":27.5,"y":8.25},{"s":"B","x":28.1,"y":8.43},{"s":"B","x":28.7,"y":8.61},{"s":"B","x":29.3,"y":8.79},{"s":"B","x":29.9,"y":8.97},{"s":"B","x":30.5,"y":9.15},{"s":"B","x":31.1,"y":9.33},{"s":"B","x":31.7,"y":9.51},{"s":"B","x":32.3,"y":9.69},{"s":"B","x":32.9,"y":9.87},{"s":"B","x":33.5,"y":10.05},{"s":"B","x":34.1,"y":10.23},{"s":"B","x":34.7,"y":10.41},{"s":"B","x":35.3,"y":10.59},{"s":"B","x":35.9,"y":10.77},{"s":"B","x":36.5,"y":10.95},{"s":"B","x":37.1,"y":11.13},{"s":"B","x":37.7,"y":11.31},{"s":"B","x":38.3,"y":11.49},{"s":"B","x":38.9,"y":11.67},{"s":"B","x":39.5,"y":11.85},
      {"s":"B","x":41.0,"y":12.3},{"s":"B","x":42.2,"y":12.66},{"s":"B","x":43.4,"y":13.02},{"s":"B","x":44.6,"y":13.38},{"s":"B","x":45.8,"y":13.74},{"s":"B","x":47.0,"y":14.1},{"s":"B","x":48.2,"y":14.46},{"s":"B","x":49.4,"y":14.82},{"s":"B","x":50.6,"y":15.18},{"s":"B","x":51.8,"y":15.54},{"s":"B","x":53.0,"y":15.9},{"s":"B","x":54.2,"y":16.26},{"s":"B","x":55.4,"y":16.62},{"s":"B","x":56.6,"y":16.98},{"s":"B","x":57.8,"y":17.34},{"s":"B","x":59.0,"y":17.7},{"s":"B","x":60.2,"y":18.06},{"s":"B","x":61.4,"y":18.42},{"s":"B","x":62.6,"y":18.78},{"s":"B","x":63.8,"y":19.14},{"s":"B","x":65.0,"y":19.5},{"s":"B","x":66.2,"y":19.86},{"s":"B","x":67.4,"y":20.22},{"s":"B","x":68.6,"y":20.58},{"s":"B","x":69.8,"y":20.94},{"s":"B","x":71.0,"y":21.3},{"s":"B","x":72.2,"y":21.66},{"s":"B","x":73.4,"y":22.02},{"s":"B","x":74.6,"y":22.38},{"s":"B","x":75.8,"y":22.74},{"s":"B","x":77.0,"y":23.1},{"s":"B","x":78.2,"y":23.46},{"s":"B","x":79.4,"y":23.82}
    ]
  },
  "layer": [
    {
      "data": {"name": "pts"},
      "mark": {"type": "point", "filled": false, "size": 80, "strokeWidth": 1, "clip": true, "opacity": 1},
      "encoding": {
        "x": {
          "field": "x", "type": "quantitative",
          "scale": {"type": "log", "domain": [0.5, 200], "nice": false},
          "axis": {
            "orient": "bottom",
            "values": [0.6, 0.7, 0.8, 0.9, 1, 2, 3, 4, 5, 6, 7, 8, 9, 10, 20, 30, 40, 50, 60, 70, 80, 90, 100],
            "labels": false, "title": null, "domain": false, "grid": true, "gridWidth": 1,
            "gridColor": {"condition": {"test": "datum.value==1||datum.value==10||datum.value==100", "value": "#dedede"}, "value": "#bdbdbd"},
            "gridDash": {"condition": {"test": "datum.value==1||datum.value==10||datum.value==100", "value": [1, 0]}, "value": [1, 2]},
            "tickColor": "#262626", "tickWidth": 1,
            "tickSize": {"condition": {"test": "datum.value==1||datum.value==10||datum.value==100", "value": -6}, "value": -3}
          }
        },
        "y": {
          "field": "y", "type": "quantitative",
          "scale": {"type": "log", "domain": [0.5, 200], "nice": false},
          "axis": {
            "orient": "left",
            "values": [0.6, 0.7, 0.8, 0.9, 1, 2, 3, 4, 5, 6, 7, 8, 9, 10, 20, 30, 40, 50, 60, 70, 80, 90, 100],
            "labels": false, "title": null, "domain": false, "grid": true, "gridWidth": 1,
            "gridColor": {"condition": {"test": "datum.value==1||datum.value==10||datum.value==100", "value": "#dedede"}, "value": "#bdbdbd"},
            "gridDash": {"condition": {"test": "datum.value==1||datum.value==10||datum.value==100", "value": [1, 0]}, "value": [1, 2]},
            "tickColor": "#262626", "tickWidth": 1,
            "tickSize": {"condition": {"test": "datum.value==1||datum.value==10||datum.value==100", "value": -6}, "value": -3}
          }
        },
        "color": {
          "field": "s", "type": "nominal",
          "scale": {"domain": ["A", "B"], "range": ["#ff0000", "#00ffff"]},
          "legend": {"title": null, "orient": "none", "legendX": 269, "legendY": 375, "labelExpr": "''", "labelOffset": 145, "labelFontSize": 8, "padding": 13, "rowPadding": 20, "symbolSize": 80, "symbolStrokeWidth": 1, "strokeColor": "#262626", "fillColor": "white"}
        },
        "shape": {
          "field": "s", "type": "nominal",
          "scale": {"domain": ["A", "B"], "range": ["circle", "triangle-up"]},
          "legend": {"title": null, "orient": "none", "legendX": 269, "legendY": 375, "labelExpr": "''", "labelOffset": 145, "labelFontSize": 8, "padding": 13, "rowPadding": 20, "symbolSize": 80, "symbolStrokeWidth": 1, "strokeColor": "#262626", "fillColor": "white"}
        }
      }
    },
    {
      "data": {"name": "lines"},
      "mark": {"type": "line", "color": "#000000", "strokeWidth": 1, "clip": true},
      "encoding": {
        "x": {
          "field": "x", "type": "quantitative",
          "scale": {"type": "log", "domain": [0.5, 200], "nice": false},
          "axis": {
            "orient": "top",
            "values": [0.6, 0.7, 0.8, 0.9, 1, 2, 3, 4, 5, 6, 7, 8, 9, 10, 20, 30, 40, 50, 60, 70, 80, 90, 100],
            "labels": false, "title": null, "domain": false, "grid": false,
            "tickColor": "#262626", "tickWidth": 1,
            "tickSize": {"condition": {"test": "datum.value==1||datum.value==10||datum.value==100", "value": -6}, "value": -3}
          }
        },
        "y": {
          "field": "y", "type": "quantitative",
          "scale": {"type": "log", "domain": [0.5, 200], "nice": false},
          "axis": {
            "orient": "right",
            "values": [0.6, 0.7, 0.8, 0.9, 1, 2, 3, 4, 5, 6, 7, 8, 9, 10, 20, 30, 40, 50, 60, 70, 80, 90, 100],
            "labels": false, "title": null, "domain": false, "grid": false,
            "tickColor": "#262626", "tickWidth": 1,
            "tickSize": {"condition": {"test": "datum.value==1||datum.value==10||datum.value==100", "value": -6}, "value": -3}
          }
        },
        "detail": {"field": "k", "type": "nominal"}
      }
    },
    {
      "data": {"name": "dashed"},
      "mark": {"type": "line", "color": "#000000", "strokeWidth": 1, "strokeDash": [5, 4], "clip": true},
      "encoding": {
        "x": {"field": "x", "type": "quantitative", "scale": {"type": "log", "domain": [0.5, 200], "nice": false}, "axis": null},
        "y": {"field": "y", "type": "quantitative", "scale": {"type": "log", "domain": [0.5, 200], "nice": false}, "axis": null},
        "detail": {"field": "k", "type": "nominal"}
      }
    }
  ],
  "resolve": {"axis": {"x": "independent", "y": "independent"}}
}
